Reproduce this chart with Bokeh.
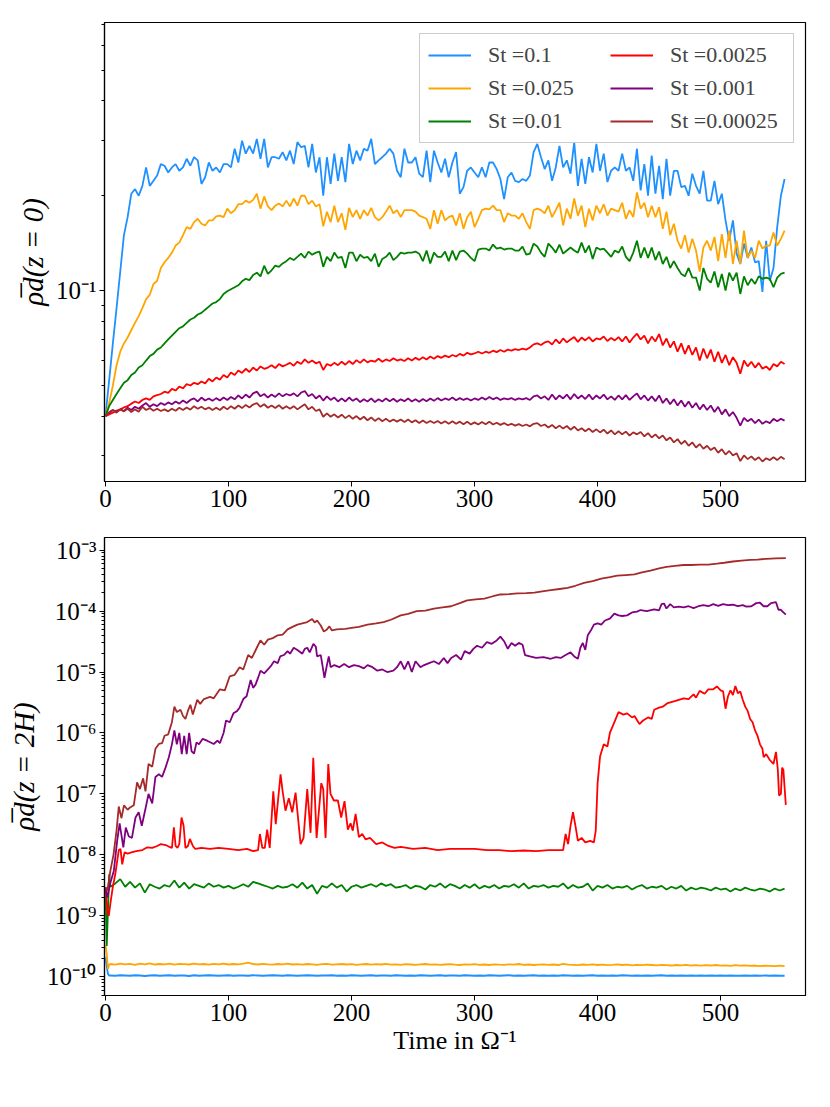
from bokeh.plotting import figure
from bokeh.models import Range1d, FixedTicker, Legend, LegendItem
from bokeh.layouts import column
from bokeh.embed import file_html
from bokeh.resources import INLINE

FONT = "Liberation Serif"

# ---------------- data: top panel  rho_d(z=0), sampled every 3 time units ----------------
TOP_TIME = list(range(0, 553, 3))

LABELS = ["St =0.1", "St =0.025", "St =0.01", "St =0.0025", "St =0.001", "St =0.00025"]
COLORS = ["#1E90FF", "#FFA500", "#008000", "#FF0000", "#800080", "#A52A2A"]

TOP_ST_0_1 = [
    0.040, 0.052, 0.068, 0.088, 0.115, 0.150, 0.171, 0.203, 0.210, 0.200,
    0.215, 0.246, 0.215, 0.223, 0.232, 0.252, 0.249, 0.237, 0.246, 0.252,
    0.240, 0.246, 0.262, 0.249, 0.265, 0.259, 0.218, 0.229, 0.255, 0.240,
    0.246, 0.237, 0.252, 0.252, 0.246, 0.282, 0.255, 0.299, 0.272, 0.288,
    0.272, 0.303, 0.262, 0.303, 0.246, 0.265, 0.265, 0.262, 0.275, 0.259,
    0.278, 0.252, 0.296, 0.285, 0.288, 0.246, 0.292, 0.237, 0.265, 0.200,
    0.265, 0.218, 0.272, 0.223, 0.265, 0.221, 0.292, 0.252, 0.278, 0.259,
    0.282, 0.278, 0.303, 0.252, 0.259, 0.265, 0.272, 0.282, 0.272, 0.240,
    0.229, 0.282, 0.255, 0.255, 0.265, 0.235, 0.229, 0.278, 0.221, 0.278,
    0.255, 0.237, 0.262, 0.229, 0.255, 0.275, 0.203, 0.213, 0.240, 0.246,
    0.237, 0.229, 0.246, 0.229, 0.255, 0.255, 0.243, 0.226, 0.195, 0.229,
    0.237, 0.223, 0.221, 0.226, 0.223, 0.232, 0.275, 0.292, 0.265, 0.243,
    0.259, 0.223, 0.246, 0.288, 0.246, 0.259, 0.235, 0.296, 0.215, 0.262,
    0.218, 0.265, 0.237, 0.292, 0.240, 0.272, 0.221, 0.240, 0.246, 0.240,
    0.272, 0.240, 0.246, 0.223, 0.282, 0.208, 0.252, 0.200, 0.268, 0.203,
    0.249, 0.195, 0.262, 0.200, 0.240, 0.240, 0.213, 0.215, 0.200, 0.235,
    0.215, 0.203, 0.240, 0.193, 0.193, 0.223, 0.188, 0.203, 0.167, 0.144,
    0.167, 0.131, 0.1215, 0.141, 0.127, 0.137, 0.123, 0.124, 0.099, 0.144,
    0.1075, 0.118, 0.159, 0.200, 0.226,
]

TOP_ST_0_025 = [
    0.040, 0.044, 0.050, 0.058, 0.064, 0.068, 0.071, 0.075, 0.079, 0.083,
    0.088, 0.094, 0.097, 0.105, 0.1075, 0.118, 0.123, 0.127, 0.132, 0.139,
    0.142, 0.150, 0.159, 0.157, 0.165, 0.169, 0.163, 0.161, 0.167, 0.167,
    0.172, 0.173, 0.171, 0.182, 0.176, 0.180, 0.188, 0.188, 0.193, 0.190,
    0.194, 0.203, 0.182, 0.199, 0.185, 0.180, 0.186, 0.189, 0.185, 0.193,
    0.185, 0.196, 0.186, 0.200, 0.200, 0.188, 0.193, 0.185, 0.188, 0.160,
    0.178, 0.165, 0.186, 0.165, 0.176, 0.156, 0.183, 0.171, 0.180, 0.169,
    0.180, 0.173, 0.183, 0.171, 0.167, 0.171, 0.178, 0.186, 0.176, 0.180,
    0.171, 0.180, 0.180, 0.180, 0.178, 0.173, 0.171, 0.169, 0.157, 0.180,
    0.163, 0.180, 0.167, 0.171, 0.173, 0.161, 0.176, 0.157, 0.171, 0.178,
    0.159, 0.169, 0.180, 0.182, 0.181, 0.186, 0.180, 0.180, 0.165, 0.176,
    0.173, 0.173, 0.169, 0.176, 0.165, 0.157, 0.180, 0.182, 0.180, 0.176,
    0.186, 0.171, 0.180, 0.190, 0.161, 0.182, 0.169, 0.196, 0.173, 0.186,
    0.159, 0.182, 0.167, 0.186, 0.176, 0.188, 0.173, 0.182, 0.180, 0.178,
    0.190, 0.169, 0.180, 0.171, 0.205, 0.182, 0.190, 0.171, 0.186, 0.171,
    0.184, 0.157, 0.178, 0.150, 0.163, 0.144, 0.136, 0.150, 0.132, 0.146,
    0.134, 0.115, 0.137, 0.144, 0.134, 0.148, 0.124, 0.151, 0.127, 0.155,
    0.1215, 0.144, 0.1215, 0.155, 0.127, 0.134, 0.127, 0.144, 0.136, 0.139,
    0.139, 0.153, 0.139, 0.146, 0.155,
]

TOP_ST_0_01 = [
    0.040, 0.043, 0.045, 0.047, 0.049, 0.051, 0.052, 0.054, 0.055, 0.057,
    0.058, 0.060, 0.062, 0.063, 0.065, 0.066, 0.068, 0.070, 0.072, 0.074,
    0.076, 0.077, 0.079, 0.081, 0.082, 0.084, 0.085, 0.087, 0.089, 0.091,
    0.092, 0.094, 0.0976, 0.0995, 0.101, 0.1025, 0.104, 0.107, 0.109, 0.108,
    0.112, 0.114, 0.111, 0.120, 0.113, 0.116, 0.120, 0.119, 0.122, 0.124,
    0.127, 0.125, 0.128, 0.131, 0.127, 0.133, 0.130, 0.132, 0.133, 0.119,
    0.128, 0.124, 0.132, 0.127, 0.128, 0.118, 0.132, 0.132, 0.124, 0.130,
    0.127, 0.128, 0.124, 0.131, 0.119, 0.126, 0.128, 0.132, 0.125, 0.128,
    0.132, 0.131, 0.132, 0.132, 0.133, 0.131, 0.124, 0.134, 0.122, 0.132,
    0.128, 0.128, 0.133, 0.124, 0.134, 0.125, 0.133, 0.134, 0.131, 0.127,
    0.124, 0.135, 0.136, 0.136, 0.134, 0.140, 0.136, 0.137, 0.135, 0.136,
    0.136, 0.134, 0.134, 0.138, 0.130, 0.131, 0.141, 0.138, 0.132, 0.128,
    0.141, 0.137, 0.132, 0.140, 0.131, 0.134, 0.137, 0.134, 0.132, 0.142,
    0.132, 0.139, 0.126, 0.137, 0.135, 0.136, 0.132, 0.128, 0.134, 0.132,
    0.138, 0.128, 0.124, 0.132, 0.144, 0.127, 0.137, 0.127, 0.137, 0.125,
    0.133, 0.1215, 0.128, 0.118, 0.124, 0.118, 0.113, 0.111, 0.118, 0.110,
    0.110, 0.100, 0.118, 0.109, 0.106, 0.115, 0.1025, 0.113, 0.100, 0.114,
    0.1075, 0.114, 0.0976, 0.111, 0.104, 0.109, 0.105, 0.111, 0.109, 0.110,
    0.109, 0.1025, 0.110, 0.113, 0.114,
]

TOP_ST_0_0025 = [
    0.0400, 0.0405, 0.0410, 0.0416, 0.0420, 0.0426, 0.0430, 0.0438, 0.0445, 0.0440,
    0.0450, 0.0455, 0.0450, 0.0462, 0.0466, 0.0470, 0.0478, 0.0474, 0.0488, 0.0482,
    0.0496, 0.0490, 0.0505, 0.0500, 0.0510, 0.0505, 0.0515, 0.0508, 0.0525, 0.0515,
    0.0530, 0.0522, 0.0540, 0.0530, 0.0550, 0.0540, 0.0558, 0.0548, 0.0565, 0.0552,
    0.0570, 0.0558, 0.0575, 0.0565, 0.0570, 0.0580, 0.0568, 0.0585, 0.0575, 0.0582,
    0.0590, 0.0578, 0.0595, 0.0585, 0.0605, 0.0590, 0.0600, 0.0588, 0.0595, 0.0560,
    0.0585, 0.0578, 0.0590, 0.0580, 0.0595, 0.0582, 0.0598, 0.0585, 0.0602, 0.0590,
    0.0605, 0.0592, 0.0600, 0.0595, 0.0608, 0.0595, 0.0605, 0.0598, 0.0610, 0.0600,
    0.0605, 0.0598, 0.0610, 0.0600, 0.0612, 0.0603, 0.0615, 0.0605, 0.0618, 0.0608,
    0.0620, 0.0612, 0.0622, 0.0615, 0.0625, 0.0618, 0.0630, 0.0622, 0.0635, 0.0628,
    0.0632, 0.0640, 0.0632, 0.0640, 0.0635, 0.0645, 0.0638, 0.0648, 0.0640, 0.0650,
    0.0645, 0.0652, 0.0648, 0.0655, 0.0650, 0.0660, 0.0675, 0.0680, 0.0672, 0.0685,
    0.0690, 0.0675, 0.0700, 0.0680, 0.0705, 0.0685, 0.0700, 0.0712, 0.0688, 0.0710,
    0.0695, 0.0712, 0.0690, 0.0705, 0.0700, 0.0715, 0.0692, 0.0708, 0.0695, 0.0712,
    0.0690, 0.0715, 0.0685, 0.0710, 0.0730, 0.0700, 0.0720, 0.0680, 0.0715, 0.0690,
    0.0728, 0.0670, 0.0705, 0.0660, 0.0690, 0.0640, 0.0680, 0.0630, 0.0670, 0.0625,
    0.0660, 0.0600, 0.0655, 0.0610, 0.0650, 0.0595, 0.0640, 0.0590, 0.0625, 0.0580,
    0.0615, 0.0590, 0.0545, 0.0600, 0.0575, 0.0595, 0.0570, 0.0590, 0.0565, 0.0575,
    0.0560, 0.0585, 0.0575, 0.0595, 0.0585,
]

TOP_ST_0_001 = [
    0.0400, 0.0410, 0.0418, 0.0412, 0.0420, 0.0415, 0.0425, 0.0418, 0.0428, 0.0422,
    0.0432, 0.0440, 0.0428, 0.0436, 0.0430, 0.0440, 0.0434, 0.0442, 0.0436, 0.0445,
    0.0438, 0.0448, 0.0440, 0.0450, 0.0455, 0.0445, 0.0458, 0.0448, 0.0455, 0.0447,
    0.0456, 0.0448, 0.0458, 0.0450, 0.0460, 0.0452, 0.0465, 0.0455, 0.0468, 0.0458,
    0.0472, 0.0478, 0.0462, 0.0470, 0.0458, 0.0468, 0.0460, 0.0472, 0.0462, 0.0470,
    0.0465, 0.0472, 0.0462, 0.0475, 0.0480, 0.0462, 0.0470, 0.0455, 0.0465, 0.0448,
    0.0462, 0.0450, 0.0458, 0.0445, 0.0455, 0.0445, 0.0458, 0.0447, 0.0455, 0.0443,
    0.0452, 0.0445, 0.0455, 0.0443, 0.0452, 0.0445, 0.0455, 0.0446, 0.0454, 0.0444,
    0.0452, 0.0446, 0.0455, 0.0445, 0.0452, 0.0444, 0.0453, 0.0446, 0.0455, 0.0447,
    0.0456, 0.0448, 0.0455, 0.0450, 0.0458, 0.0449, 0.0456, 0.0450, 0.0455, 0.0448,
    0.0455, 0.0450, 0.0458, 0.0451, 0.0460, 0.0452, 0.0458, 0.0450, 0.0455, 0.0452,
    0.0456, 0.0450, 0.0455, 0.0452, 0.0456, 0.0450, 0.0462, 0.0465, 0.0455, 0.0462,
    0.0450, 0.0468, 0.0452, 0.0465, 0.0455, 0.0468, 0.0452, 0.0470, 0.0455, 0.0465,
    0.0453, 0.0468, 0.0452, 0.0465, 0.0455, 0.0468, 0.0452, 0.0462, 0.0450, 0.0465,
    0.0452, 0.0466, 0.0450, 0.0462, 0.0472, 0.0452, 0.0465, 0.0448, 0.0462, 0.0446,
    0.0465, 0.0440, 0.0455, 0.0436, 0.0452, 0.0432, 0.0448, 0.0428, 0.0445, 0.0425,
    0.0440, 0.0420, 0.0435, 0.0418, 0.0432, 0.0412, 0.0428, 0.0405, 0.0420, 0.0400,
    0.0412, 0.0395, 0.0373, 0.0395, 0.0385, 0.0392, 0.0380, 0.0390, 0.0378, 0.0385,
    0.0380, 0.0392, 0.0385, 0.0392, 0.0387,
]

TOP_ST_0_00025 = [
    0.0400, 0.0412, 0.0418, 0.0410, 0.0420, 0.0414, 0.0422, 0.0412, 0.0420, 0.0413,
    0.0428, 0.0418, 0.0424, 0.0416, 0.0422, 0.0415, 0.0420, 0.0414, 0.0422, 0.0416,
    0.0425, 0.0418, 0.0426, 0.0419, 0.0430, 0.0422, 0.0428, 0.0420, 0.0426, 0.0418,
    0.0425, 0.0418, 0.0428, 0.0420, 0.0430, 0.0422, 0.0432, 0.0424, 0.0434, 0.0426,
    0.0435, 0.0440, 0.0428, 0.0436, 0.0425, 0.0432, 0.0424, 0.0433, 0.0422, 0.0430,
    0.0422, 0.0430, 0.0420, 0.0428, 0.0436, 0.0420, 0.0428, 0.0415, 0.0420, 0.0398,
    0.0408, 0.0398, 0.0405, 0.0396, 0.0404, 0.0394, 0.0402, 0.0392, 0.0400, 0.0390,
    0.0398, 0.0388, 0.0396, 0.0386, 0.0394, 0.0385, 0.0392, 0.0384, 0.0390, 0.0384,
    0.0390, 0.0383, 0.0390, 0.0382, 0.0388, 0.0380, 0.0387, 0.0380, 0.0386, 0.0380,
    0.0386, 0.0379, 0.0385, 0.0378, 0.0385, 0.0378, 0.0384, 0.0377, 0.0384, 0.0376,
    0.0382, 0.0376, 0.0383, 0.0377, 0.0384, 0.0376, 0.0381, 0.0375, 0.0380, 0.0374,
    0.0378, 0.0373, 0.0377, 0.0372, 0.0376, 0.0371, 0.0378, 0.0380, 0.0372, 0.0376,
    0.0368, 0.0375, 0.0366, 0.0373, 0.0365, 0.0372, 0.0362, 0.0370, 0.0360, 0.0366,
    0.0358, 0.0365, 0.0356, 0.0363, 0.0355, 0.0362, 0.0352, 0.0360, 0.0350, 0.0358,
    0.0350, 0.0357, 0.0347, 0.0355, 0.0350, 0.0356, 0.0345, 0.0353, 0.0342, 0.0350,
    0.0340, 0.0347, 0.0335, 0.0342, 0.0330, 0.0338, 0.0326, 0.0334, 0.0322, 0.0330,
    0.0318, 0.0326, 0.0315, 0.0322, 0.0312, 0.0318, 0.0306, 0.0314, 0.0302, 0.0310,
    0.0300, 0.0305, 0.0288, 0.0300, 0.0292, 0.0298, 0.0290, 0.0296, 0.0287, 0.0294,
    0.0290, 0.0296, 0.0290, 0.0297, 0.0292,
]

# ---------------- data: bottom panel rho_d(z=2H) ----------------
BOT_TIME = [0, 1, 2, 3] + list(range(4, 553, 4))

BOT_ST_0_1 = [
    2.1e-10, 1.5e-10, 1.12e-10, 1.04e-10,
    1.05e-10, 1.04e-10, 1.06e-10, 1.05e-10, 1.04e-10, 1.06e-10, 1.05e-10, 1.03e-10, 1.05e-10, 1.06e-10,
    1.04e-10, 1.05e-10, 1.06e-10, 1.04e-10, 1.05e-10, 1.05e-10, 1.03e-10, 1.06e-10, 1.04e-10, 1.05e-10,
    1.06e-10, 1.05e-10, 1.04e-10, 1.05e-10, 1.06e-10, 1.04e-10, 1.05e-10, 1.05e-10, 1.04e-10, 1.06e-10,
    1.05e-10, 1.04e-10, 1.05e-10, 1.06e-10, 1.05e-10, 1.04e-10, 1.06e-10, 1.05e-10, 1.04e-10, 1.05e-10,
    1.06e-10, 1.05e-10, 1.04e-10, 1.05e-10, 1.05e-10, 1.06e-10, 1.04e-10, 1.05e-10, 1.04e-10, 1.06e-10,
    1.05e-10, 1.04e-10, 1.05e-10, 1.06e-10, 1.04e-10, 1.05e-10, 1.05e-10, 1.04e-10, 1.06e-10, 1.05e-10,
    1.04e-10, 1.05e-10, 1.04e-10, 1.06e-10, 1.05e-10, 1.04e-10, 1.05e-10, 1.06e-10, 1.04e-10, 1.05e-10,
    1.05e-10, 1.04e-10, 1.06e-10, 1.05e-10, 1.04e-10, 1.05e-10, 1.04e-10, 1.06e-10, 1.05e-10, 1.04e-10,
    1.05e-10, 1.06e-10, 1.04e-10, 1.05e-10, 1.04e-10, 1.05e-10, 1.06e-10, 1.04e-10, 1.05e-10, 1.04e-10,
    1.05e-10, 1.04e-10, 1.06e-10, 1.05e-10, 1.04e-10, 1.05e-10, 1.04e-10, 1.05e-10, 1.06e-10, 1.04e-10,
    1.05e-10, 1.04e-10, 1.05e-10, 1.04e-10, 1.06e-10, 1.05e-10, 1.04e-10, 1.05e-10, 1.04e-10, 1.05e-10,
    1.04e-10, 1.05e-10, 1.06e-10, 1.04e-10, 1.05e-10, 1.04e-10, 1.05e-10, 1.04e-10, 1.05e-10, 1.04e-10,
    1.05e-10, 1.04e-10, 1.05e-10, 1.04e-10, 1.05e-10, 1.04e-10, 1.05e-10, 1.04e-10, 1.04e-10, 1.05e-10,
    1.04e-10, 1.05e-10, 1.04e-10, 1.05e-10, 1.04e-10, 1.05e-10, 1.04e-10, 1.04e-10,
]

BOT_ST_0_025 = [
    3.3e-10, 2.4e-10, 1.35e-10, 1.58e-10,
    1.62e-10, 1.58e-10, 1.65e-10, 1.60e-10, 1.63e-10, 1.57e-10, 1.64e-10, 1.60e-10, 1.66e-10, 1.59e-10,
    1.62e-10, 1.60e-10, 1.65e-10, 1.58e-10, 1.63e-10, 1.61e-10, 1.59e-10, 1.64e-10, 1.60e-10, 1.62e-10,
    1.58e-10, 1.63e-10, 1.60e-10, 1.65e-10, 1.59e-10, 1.62e-10, 1.60e-10, 1.64e-10, 1.70e-10, 1.62e-10,
    1.59e-10, 1.63e-10, 1.60e-10, 1.58e-10, 1.62e-10, 1.60e-10, 1.64e-10, 1.59e-10, 1.61e-10, 1.58e-10,
    1.62e-10, 1.60e-10, 1.57e-10, 1.61e-10, 1.63e-10, 1.58e-10, 1.60e-10, 1.62e-10, 1.59e-10, 1.61e-10,
    1.57e-10, 1.60e-10, 1.62e-10, 1.58e-10, 1.61e-10, 1.59e-10, 1.63e-10, 1.58e-10, 1.60e-10, 1.57e-10,
    1.61e-10, 1.59e-10, 1.57e-10, 1.60e-10, 1.62e-10, 1.58e-10, 1.60e-10, 1.57e-10, 1.59e-10, 1.61e-10,
    1.58e-10, 1.56e-10, 1.60e-10, 1.58e-10, 1.61e-10, 1.57e-10, 1.59e-10, 1.56e-10, 1.60e-10, 1.58e-10,
    1.57e-10, 1.60e-10, 1.58e-10, 1.62e-10, 1.57e-10, 1.59e-10, 1.56e-10, 1.58e-10, 1.60e-10, 1.57e-10,
    1.59e-10, 1.56e-10, 1.63e-10, 1.58e-10, 1.57e-10, 1.55e-10, 1.59e-10, 1.57e-10, 1.60e-10, 1.56e-10,
    1.58e-10, 1.55e-10, 1.57e-10, 1.60e-10, 1.56e-10, 1.58e-10, 1.54e-10, 1.57e-10, 1.55e-10, 1.58e-10,
    1.56e-10, 1.54e-10, 1.57e-10, 1.55e-10, 1.53e-10, 1.56e-10, 1.54e-10, 1.57e-10, 1.53e-10, 1.55e-10,
    1.52e-10, 1.55e-10, 1.53e-10, 1.56e-10, 1.52e-10, 1.54e-10, 1.51e-10, 1.55e-10, 1.52e-10, 1.54e-10,
    1.51e-10, 1.53e-10, 1.50e-10, 1.52e-10, 1.51e-10, 1.49e-10, 1.52e-10, 1.50e-10,
]

BOT_ST_0_01 = [
    2.9e-9, 3.2e-10, 1.2e-9, 4.8e-9, 3.0e-9,
    3.4e-9, 4.0e-9, 3.0e-9, 3.6e-9, 2.9e-9, 3.4e-9, 2.4e-9, 3.3e-9, 3.0e-9, 2.8e-9,
    3.2e-9, 3.0e-9, 3.8e-9, 2.9e-9, 3.5e-9, 2.8e-9, 3.3e-9, 3.1e-9, 2.9e-9, 3.4e-9,
    3.0e-9, 3.2e-9, 2.9e-9, 3.1e-9, 2.8e-9, 3.0e-9, 3.3e-9, 3.0e-9, 3.6e-9, 3.4e-9,
    3.2e-9, 3.0e-9, 2.8e-9, 3.1e-9, 2.9e-9, 3.0e-9, 3.3e-9, 2.9e-9, 3.5e-9, 2.8e-9,
    3.2e-9, 2.3e-9, 3.1e-9, 2.9e-9, 3.4e-9, 2.9e-9, 3.2e-9, 2.5e-9, 3.0e-9, 3.2e-9,
    2.9e-9, 3.1e-9, 3.3e-9, 3.0e-9, 3.4e-9, 3.1e-9, 3.3e-9, 2.9e-9, 3.0e-9, 3.2e-9,
    2.8e-9, 3.1e-9, 3.0e-9, 2.7e-9, 3.2e-9, 3.0e-9, 3.4e-9, 2.9e-9, 3.3e-9, 3.1e-9,
    2.8e-9, 3.2e-9, 2.9e-9, 3.3e-9, 2.8e-9, 3.1e-9, 2.9e-9, 3.2e-9, 2.8e-9, 3.1e-9,
    3.0e-9, 3.3e-9, 2.9e-9, 3.4e-9, 2.8e-9, 3.1e-9, 3.0e-9, 3.2e-9, 2.9e-9, 3.1e-9,
    3.0e-9, 3.4e-9, 2.8e-9, 3.2e-9, 2.9e-9, 3.0e-9, 3.4e-9, 2.6e-9, 3.1e-9, 2.9e-9,
    3.2e-9, 2.8e-9, 3.0e-9, 2.9e-9, 3.1e-9, 2.7e-9, 3.0e-9, 3.2e-9, 2.8e-9, 3.0e-9,
    2.9e-9, 3.1e-9, 2.7e-9, 3.0e-9, 2.8e-9, 3.1e-9, 2.6e-9, 2.9e-9, 2.7e-9, 2.9e-9,
    2.8e-9, 2.6e-9, 2.9e-9, 2.7e-9, 2.8e-9, 2.5e-9, 2.8e-9, 2.6e-9, 2.9e-9, 2.7e-9,
    2.6e-9, 2.8e-9, 2.7e-9, 2.5e-9, 2.8e-9, 2.6e-9, 2.8e-9,
]

BOT_ST_0_0025_T = [
    0, 1.9, 2.7, 4, 6, 8, 10.8, 12.2, 13.6, 15.5,
    18, 21, 25, 30, 34, 38, 42, 45, 49, 52,
    54, 55.6, 57, 58.5, 60, 61.8, 63.5, 65, 67, 68.6,
    71, 73, 78, 85, 92, 100, 108, 115, 120, 124,
    125.5, 127.5, 129.5, 131.4, 133.5, 136.4, 138.4, 142.3, 144, 146.3,
    149, 151.8, 154.5, 158.6, 161, 164, 166.7, 168.9, 171.6, 175.4,
    177, 178.9, 181.1, 182.9, 185.6, 188.9, 191.6, 194.3, 197, 199.2,
    201, 203.3, 206, 208.7, 211.4, 215, 220, 225, 230, 235,
    240, 250, 260, 270, 280, 290, 300, 310, 320, 330,
    340, 350, 360, 368, 372, 374, 376, 378, 380, 382,
    384, 387, 390, 394, 397, 398.5, 400, 402, 405, 408,
    410, 413, 417, 421, 424, 428, 430, 434, 437, 441,
    444, 446, 450, 453, 457, 462, 466, 470, 474, 478,
    480, 483, 487, 490, 494, 497, 500, 502, 504, 506,
    508, 510, 512, 514, 516, 518, 520, 522, 524, 526,
    528, 530, 532, 534, 535, 537, 540, 543, 545, 546.5,
    547.5, 549, 550, 551, 553,
]
BOT_ST_0_0025 = [
    2.95e-9, 1.05e-9, 1.0e-9, 1.6e-9, 3.0e-9, 4.9e-9, 1.2e-8, 1.25e-8, 7.0e-9, 1.1e-8,
    1.05e-8, 1.1e-8, 1.15e-8, 1.2e-8, 1.33e-8, 1.3e-8, 1.4e-8, 1.5e-8, 1.45e-8, 1.35e-8,
    1.3e-8, 2.84e-8, 1.4e-8, 1.3e-8, 1.5e-8, 4.1e-8, 3.0e-8, 1.3e-8, 1.4e-8, 1.83e-8,
    1.4e-8, 1.25e-8, 1.3e-8, 1.25e-8, 1.3e-8, 1.25e-8, 1.2e-8, 1.25e-8, 1.15e-8, 1.2e-8,
    2.2e-8, 1.3e-8, 1.3e-8, 2.6e-8, 1.3e-8, 1.1e-7, 3.2e-8, 2.1e-7, 1.1e-7, 5.3e-8,
    8.5e-8, 5.0e-8, 1.05e-7, 1.5e-8, 1.9e-8, 1.2e-7, 2.3e-8, 3.9e-7, 1.9e-8, 1.5e-7,
    1.2e-7, 1.9e-8, 3.1e-7, 1.0e-7, 7.8e-8, 7.8e-8, 4.1e-8, 7.6e-8, 2.6e-8, 3.3e-8,
    2.5e-8, 4.7e-8, 1.95e-8, 2.2e-8, 1.8e-8, 1.9e-8, 1.5e-8, 1.6e-8, 1.4e-8, 1.3e-8,
    1.35e-8, 1.25e-8, 1.3e-8, 1.2e-8, 1.25e-8, 1.25e-8, 1.25e-8, 1.2e-8, 1.2e-8, 1.15e-8,
    1.18e-8, 1.15e-8, 1.2e-8, 1.2e-8, 1.2e-8, 2.2e-8, 1.5e-8, 3.0e-8, 5.0e-8, 3.0e-8,
    1.7e-8, 1.9e-8, 1.6e-8, 1.7e-8, 1.6e-8, 2.5e-8, 1.5e-7, 4.1e-7, 6.5e-7, 6.0e-7,
    1.0e-6, 1.4e-6, 2.2e-6, 2.0e-6, 2.1e-6, 1.8e-6, 1.9e-6, 1.4e-6, 1.6e-6, 1.8e-6,
    1.7e-6, 2.4e-6, 2.6e-6, 2.7e-6, 3.1e-6, 3.3e-6, 3.5e-6, 3.7e-6, 3.6e-6, 4.3e-6,
    3.8e-6, 4.9e-6, 4.4e-6, 5.2e-6, 5.2e-6, 5.8e-6, 5.0e-6, 4.8e-6, 2.5e-6, 4.0e-6,
    5.0e-6, 4.2e-6, 5.9e-6, 4.5e-6, 4.8e-6, 3.5e-6, 2.7e-6, 2.3e-6, 1.7e-6, 1.5e-6,
    1.1e-6, 9.0e-7, 6.5e-7, 5.5e-7, 4.0e-7, 4.5e-7, 3.6e-7, 3.1e-7, 4.9e-7, 2.5e-7,
    9.4e-8, 1.0e-7, 2.7e-7, 2.5e-7, 6.6e-8,
]

BOT_ST_0_001_T = [
    0, 1.5, 4, 6.8, 9.5, 11.5, 14.5, 16.5, 19, 21.5,
    24.4, 27, 29.5, 32.5, 35, 38, 40.6, 43.4, 46, 48.8,
    51.5, 54, 56, 58, 60, 62, 64, 66, 68, 70,
    72, 74, 76, 79, 83, 88, 91, 93, 96, 98,
    101, 104, 107, 109, 112, 114.7, 118, 120, 122, 124,
    126, 129, 132, 135, 137, 140, 142, 145, 148, 150,
    153, 156, 160, 162, 164, 166, 169, 171, 172, 175,
    178, 180, 181.5, 183, 186, 190, 194, 198, 202, 206,
    210, 213, 217, 221, 225, 229, 234, 237, 240, 243,
    246, 249, 252, 256, 259, 263, 267, 271, 275, 278,
    281, 285, 289, 292, 296, 299, 302, 306, 310, 314,
    318, 321, 324, 327, 330, 333, 336, 339, 341, 345,
    350, 356, 362, 366, 370, 374, 378, 381, 384, 386,
    388, 390, 392, 395, 397, 400, 403, 406, 410, 413.6,
    417, 420, 424, 428, 432, 435, 440, 446, 450, 452,
    454, 456, 459, 462, 466, 470, 474, 478, 482, 486,
    490, 494, 498, 502, 506, 510, 514, 518, 521, 525,
    529, 532, 535, 538, 541, 545, 547, 549, 551, 553,
]
BOT_ST_0_001 = [
    2.9e-9, 2.0e-9, 3.5e-9, 5.5e-9, 1.7e-8, 3.3e-8, 1.33e-8, 2.8e-8, 2.0e-8, 1.9e-8,
    4.1e-8, 5.0e-8, 3.0e-8, 5.7e-8, 1.0e-7, 7.0e-8, 1.9e-7, 2.1e-7, 1.9e-7, 2.7e-7,
    4.0e-7, 6.5e-7, 1.1e-6, 6.5e-7, 1.0e-6, 4.5e-7, 9.0e-7, 4.5e-7, 1.0e-6, 5.0e-7,
    4.6e-7, 7.0e-7, 6.5e-7, 8.0e-7, 7.4e-7, 6.6e-7, 7.5e-7, 6.8e-7, 1.0e-6, 1.6e-6,
    1.5e-6, 2.1e-6, 2.3e-6, 2.6e-6, 3.6e-6, 4.0e-6, 7.4e-6, 5.5e-6, 6.2e-6, 8.0e-6,
    1.05e-5, 9.5e-6, 1.1e-5, 1.3e-5, 1.5e-5, 1.4e-5, 1.8e-5, 1.9e-5, 2.2e-5, 2.0e-5,
    2.5e-5, 2.3e-5, 2.0e-5, 2.4e-5, 2.5e-5, 2.1e-5, 2.9e-5, 2.6e-5, 1.8e-5, 1.9e-5,
    8.0e-6, 1.3e-5, 1.8e-5, 1.2e-5, 1.3e-5, 1.2e-5, 1.35e-5, 1.2e-5, 1.3e-5, 1.25e-5,
    1.15e-5, 1.3e-5, 1.2e-5, 1.05e-5, 1.1e-5, 1.0e-5, 1.05e-5, 1.2e-5, 1.5e-5, 1.1e-5,
    1.5e-5, 1.0e-5, 1.5e-5, 1.2e-5, 1.3e-5, 1.4e-5, 1.5e-5, 1.35e-5, 1.7e-5, 1.4e-5,
    1.7e-5, 1.9e-5, 1.6e-5, 2.2e-5, 2.0e-5, 2.4e-5, 2.7e-5, 2.5e-5, 3.1e-5, 2.9e-5,
    3.3e-5, 3.8e-5, 3.2e-5, 2.4e-5, 3.0e-5, 2.7e-5, 3.0e-5, 2.8e-5, 1.9e-5, 1.8e-5,
    1.7e-5, 1.75e-5, 1.65e-5, 1.75e-5, 1.7e-5, 1.9e-5, 2.1e-5, 1.8e-5, 1.65e-5, 2.5e-5,
    3.0e-5, 2.3e-5, 4.0e-5, 5.0e-5, 6.0e-5, 6.3e-5, 6.0e-5, 7.0e-5, 7.5e-5, 9.1e-5,
    8.5e-5, 8.3e-5, 8.5e-5, 9.5e-5, 9.8e-5, 1.04e-4, 1.0e-4, 1.07e-4, 1.03e-4, 1.3e-4,
    1.33e-4, 1.1e-4, 1.3e-4, 1.15e-4, 1.18e-4, 1.15e-4, 1.2e-4, 1.12e-4, 1.2e-4, 1.25e-4,
    1.2e-4, 1.3e-4, 1.22e-4, 1.3e-4, 1.25e-4, 1.27e-4, 1.2e-4, 1.25e-4, 1.18e-4, 1.2e-4,
    1.35e-4, 1.37e-4, 1.2e-4, 1.2e-4, 1.35e-4, 1.4e-4, 1.05e-4, 1.05e-4, 9.5e-5, 8.8e-5,
]

BOT_ST_0_00025_T = [
    0, 1.5, 4, 6.5, 9, 10.8, 13, 15, 18, 20,
    23, 25.7, 28, 30.6, 32.5, 35, 38, 40.6, 43.4, 46,
    48, 51, 54, 56, 58, 61, 63, 65, 67, 69,
    71, 74.6, 77, 80, 85, 88, 93, 97, 101, 105,
    109, 112, 116, 119, 123, 126, 129, 132, 136, 140,
    144, 148, 152, 156, 160, 164, 168, 170, 172, 175,
    177.5, 180, 182, 184, 188, 195, 200, 206, 213, 220,
    226, 232, 240, 246, 253, 260, 267, 274, 281, 288,
    294, 301, 308, 315, 321, 328, 335, 342, 348.6, 355,
    362, 369, 375.6, 382, 389, 396, 403, 410, 416, 423,
    430, 436, 443, 450, 456, 463, 470, 476, 483, 490,
    497, 503, 510, 517, 524, 530, 537, 545, 553,
]
BOT_ST_0_00025 = [
    2.9e-9, 2.6e-9, 5.5e-9, 1.0e-8, 2.5e-8, 6.2e-8, 4.0e-8, 6.5e-8, 5.5e-8, 6.0e-8,
    6.5e-8, 1.55e-7, 1.2e-7, 1.8e-7, 1.1e-7, 3.1e-7, 2.8e-7, 5.5e-7, 6.6e-7, 6.8e-7,
    9.0e-7, 9.5e-7, 1.5e-6, 2.7e-6, 2.2e-6, 2.4e-6, 1.9e-6, 1.7e-6, 2.3e-6, 2.9e-6,
    2.0e-6, 3.5e-6, 3.0e-6, 3.6e-6, 3.9e-6, 3.7e-6, 5.2e-6, 5.0e-6, 8.5e-6, 9.0e-6,
    1.2e-5, 1.1e-5, 1.9e-5, 1.7e-5, 2.5e-5, 3.3e-5, 2.8e-5, 3.4e-5, 3.6e-5, 4.0e-5,
    4.1e-5, 5.0e-5, 5.5e-5, 6.0e-5, 6.3e-5, 6.6e-5, 7.4e-5, 6.5e-5, 7.0e-5, 5.8e-5,
    4.6e-5, 5.0e-5, 5.6e-5, 4.8e-5, 5.0e-5, 5.1e-5, 5.3e-5, 5.5e-5, 6.0e-5, 6.3e-5,
    6.6e-5, 7.2e-5, 8.5e-5, 9.0e-5, 1.0e-4, 1.02e-4, 1.1e-4, 1.15e-4, 1.2e-4, 1.35e-4,
    1.5e-4, 1.55e-4, 1.6e-4, 1.75e-4, 1.87e-4, 1.9e-4, 1.95e-4, 1.97e-4, 2.0e-4, 2.1e-4,
    2.2e-4, 2.3e-4, 2.4e-4, 2.6e-4, 2.9e-4, 3.1e-4, 3.4e-4, 3.6e-4, 3.8e-4, 3.9e-4,
    4.0e-4, 4.3e-4, 4.6e-4, 5.0e-4, 5.3e-4, 5.5e-4, 5.7e-4, 5.7e-4, 5.8e-4, 5.8e-4,
    6.0e-4, 6.2e-4, 6.5e-4, 6.7e-4, 6.9e-4, 7.0e-4, 7.2e-4, 7.3e-4, 7.4e-4,
]

X_TICKS = [0, 100, 200, 300, 400, 500]
TOP_Y_TICKS = {0.1: "10⁻¹"}
BOT_Y_TICKS = {1e-3: "10⁻³", 1e-4: "10⁻⁴", 1e-5: "10⁻⁵", 1e-6: "10⁻⁶",
               1e-7: "10⁻⁷", 1e-8: "10⁻⁸", 1e-9: "10⁻⁹", 1e-10: "10⁻¹⁰"}


def style(p):
    p.xgrid.visible = False
    p.ygrid.visible = False
    p.outline_line_color = "black"
    p.outline_line_width = 1.2
    p.outline_line_alpha = 1.0
    p.background_fill_color = "white"
    p.border_fill_color = "white"
    for ax in (p.xaxis[0], p.yaxis[0]):
        ax.axis_line_color = "black"
        ax.axis_line_width = 1.2
        ax.major_tick_line_color = "black"
        ax.minor_tick_line_color = "black"
        ax.major_tick_out = 5
        ax.major_tick_in = 0
        ax.minor_tick_out = 3
        ax.minor_tick_in = 0
        ax.major_label_text_font = FONT
        ax.major_label_text_font_size = "25px"
        ax.major_label_text_color = "black"
        ax.axis_label_text_font = FONT
        ax.axis_label_text_color = "black"
    p.xaxis.ticker = FixedTicker(ticks=X_TICKS, minor_ticks=[])
    p.xaxis.major_label_standoff = 3
    p.xaxis.axis_label_text_font_size = "26px"
    p.yaxis.major_label_standoff = 3
    p.yaxis.axis_label_standoff = 4
    p.yaxis.axis_label_text_font_size = "29px"
    p.yaxis.axis_label_text_font_style = "italic"


XR = (-0.8, 569.0)

# ---------------- top figure ----------------
p1 = figure(width=822, height=521, y_axis_type="log",
            x_range=Range1d(*XR), y_range=Range1d(0.0248, 0.709),
            output_backend="svg", toolbar_location=None,
            min_border_left=104, min_border_right=17, min_border_top=22, min_border_bottom=40)
style(p1)
top_minor = [0.03, 0.04, 0.05, 0.06, 0.07, 0.08, 0.09, 0.2, 0.3, 0.4, 0.5, 0.6, 0.7]
p1.yaxis.ticker = FixedTicker(ticks=list(TOP_Y_TICKS.keys()), minor_ticks=top_minor)
p1.yaxis.major_label_overrides = TOP_Y_TICKS
p1.yaxis.axis_label = "ρ̅d(z = 0)"

top_series = [TOP_ST_0_1, TOP_ST_0_025, TOP_ST_0_01, TOP_ST_0_0025, TOP_ST_0_001, TOP_ST_0_00025]
items = []
for vals, col, lab in zip(top_series, COLORS, LABELS):
    n = min(len(TOP_TIME), len(vals))
    r = p1.line(TOP_TIME[:n], vals[:n], line_color=col, line_width=1.8)
    items.append(LegendItem(label=lab, renderers=[r]))

legend = Legend(items=items, location="top_right", ncols=2,
                label_text_font=FONT, label_text_font_size="22px",
                glyph_width=43, glyph_height=20, label_height=22, label_width=115,
                label_standoff=17, spacing=7, padding=8, margin=11,
                border_line_color="#cccccc", border_line_width=1, border_line_alpha=1.0,
                background_fill_color="white", background_fill_alpha=0.8)
p1.add_layout(legend)

# ---------------- bottom figure ----------------
p2 = figure(width=822, height=554, y_axis_type="log",
            x_range=Range1d(*XR), y_range=Range1d(4.93e-11, 1.61e-3),
            output_backend="svg", toolbar_location=None,
            min_border_left=104, min_border_right=17, min_border_top=16, min_border_bottom=80)
style(p2)
bot_minor = [k * 10.0 ** e for e in range(-11, -2) for k in range(2, 10)]
p2.yaxis.ticker = FixedTicker(ticks=list(BOT_Y_TICKS.keys()), minor_ticks=bot_minor)
p2.yaxis.major_label_overrides = BOT_Y_TICKS
p2.yaxis.axis_label = "ρ̅d(z = 2H)"
p2.xaxis.axis_label = "Time in Ω⁻¹"
p2.xaxis.axis_label_text_font_style = "normal"
p2.xaxis.axis_label_standoff = 2

bot_series = [
    (BOT_TIME, BOT_ST_0_1),
    (BOT_TIME, BOT_ST_0_025),
    (BOT_TIME, BOT_ST_0_01),
    (BOT_ST_0_0025_T, BOT_ST_0_0025),
    (BOT_ST_0_001_T, BOT_ST_0_001),
    (BOT_ST_0_00025_T, BOT_ST_0_00025),
]
for (tt, vals), col in zip(bot_series, COLORS):
    n = min(len(tt), len(vals))
    p2.line(tt[:n], vals[:n], line_color=col, line_width=1.8)

layout = column(p1, p2)
open("out.html", "w").write(file_html(layout, INLINE))
